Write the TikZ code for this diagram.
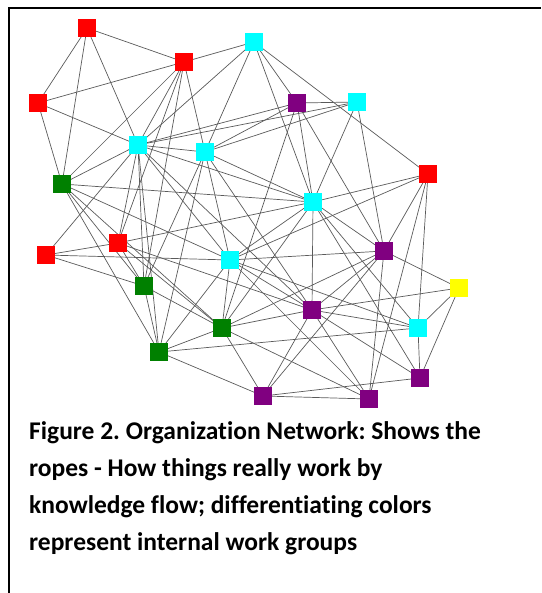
\documentclass[tikz,border=0pt]{standalone}
\usepackage{fontspec}
\setmainfont{Carlito}[Ligatures={NoCommon}]
\usetikzlibrary{backgrounds}
\definecolor{grpred}{RGB}{255,0,0}
\definecolor{grpcyan}{RGB}{0,255,255}
\definecolor{grppurple}{RGB}{128,0,128}
\definecolor{grpgreen}{RGB}{0,128,0}
\definecolor{grpyellow}{RGB}{255,255,0}
\definecolor{linkgray}{RGB}{90,90,90}
\tikzset{
  member/.style={rectangle, minimum size=18pt, inner sep=0pt, draw=none},
  rn/.style={member, fill=grpred},
  cn/.style={member, fill=grpcyan},
  pn/.style={member, fill=grppurple},
  gn/.style={member, fill=grpgreen},
  yn/.style={member, fill=grpyellow},
  link/.style={draw=linkgray, line width=0.7pt},
  frameline/.style={draw=black, line width=2pt},
  captionline/.style={anchor=base west, inner sep=0pt,
    font=\fontsize{25.5}{37}\selectfont\bfseries\frenchspacing}
}
\begin{document}
\begin{tikzpicture}[x=1pt,y=-1pt]
\useasboundingbox (0,0) rectangle (541,593);
% frame
\coordinate (fb) at (9,593);
\coordinate (fc) at (9,8);
\coordinate (fr) at (541,8);
\draw[frameline] (fb) -- (fc) -- (fr);

% work groups
\node[rn] (R1) at (87,28) {};
\node[rn] (R2) at (184,62) {};
\node[rn] (R3) at (38,103) {};
\node[rn] (R4) at (428,174) {};
\node[rn] (R5) at (46,255) {};
\node[rn] (R6) at (118,243) {};

\node[cn] (C1) at (254,42) {};
\node[cn] (C2) at (357,102) {};
\node[cn] (C3) at (138,145) {};
\node[cn] (C4) at (205,152) {};
\node[cn] (C5) at (313,202) {};
\node[cn] (C6) at (230,260) {};
\node[cn] (C7) at (418,328) {};

\node[pn] (P1) at (297,103) {};
\node[pn] (P2) at (384,251) {};
\node[pn] (P3) at (312,310) {};
\node[pn] (P4) at (420,378) {};
\node[pn] (P5) at (263,396) {};
\node[pn] (P6) at (369,399) {};

\node[gn] (G1) at (62,184) {};
\node[gn] (G2) at (144,286) {};
\node[gn] (G3) at (222,328) {};
\node[gn] (G4) at (159,352) {};

\node[yn] (Y1) at (459,288) {};

% knowledge-flow links
\begin{scope}[on background layer]
\foreach \a/\b in {
  R1/R2, R1/R3, R1/G1, R1/C3,
  R2/R3, R2/C1, R2/C3, R2/C4, R2/G1, R2/R6, R2/G2,
  R3/C3, R3/G1,
  C1/C3, C1/C4, C1/C5, C1/P1, C1/R4,
  P1/C2, P1/C3, P1/C4, P1/G3, P1/C5, P1/P2,
  C2/C3, C2/C4, C2/C5, C2/P2,
  R4/C5, R4/C6, R4/P2, R4/P6, R4/C7,
  C3/C4, C3/G1, C3/C5, C3/R6, C3/G2, C3/G4, C3/C6, C3/P3, C3/R5,
  C4/C5, C4/G2, C4/G4, C4/C6, C4/P3,
  C5/G1, C5/R6, C5/P2, C5/P3, C5/C7, C5/P4, C5/C6, C5/G3,
  C6/R5, C6/G1, C6/P2, C6/G3, C6/G4, C6/C7, C6/P3, C6/P6,
  R5/R6, R5/G2,
  R6/P3, R6/G3, R6/G2,
  G1/G2, G1/G4, G1/G3,
  G2/G3, G2/G4,
  G4/G3, G4/C7, G4/P5,
  G3/P3, G3/P2, G3/P5, G3/P6,
  P5/P3, P5/P2, P5/P4, P5/P6,
  P6/P2, P6/P3,
  P4/C7, P4/Y1, P4/P3,
  P3/C7, P3/Y1, P3/P2,
  P2/Y1, Y1/C7}
  \draw[link] (\a.center) -- (\b.center);
\end{scope}

% caption
\node[captionline] (cap1) at (29,439) {Figure 2. Organization Network: Shows the};
\node[captionline] (cap2) at (29,476) {ropes - How things really work by};
\node[captionline] (cap3) at (29,513) {knowledge flow; differentiating colors};
\node[captionline] (cap4) at (29,550) {represent internal work groups};
\end{tikzpicture}
\end{document}
